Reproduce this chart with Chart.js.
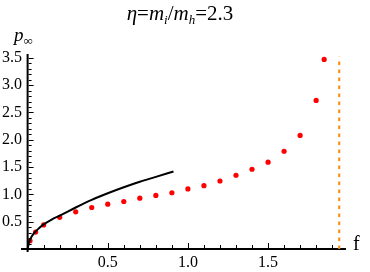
<!DOCTYPE html>
<html>
<head>
<meta charset="utf-8">
<script src="https://cdn.jsdelivr.net/npm/chart.js@4/dist/chart.umd.min.js"></script>
<style>
body { margin: 0; background: #fff; }
#wrap { position: relative; width: 370px; height: 272px; }
.lbl { position: absolute; font-family: "Liberation Serif", serif; color: #000; white-space: nowrap; }
#title { left: 0; width: 360px; top: 1px; text-align: center; font-size: 21px; }
#ylab { left: 14px; top: 24px; font-size: 19px; font-style: italic; }
#xlab { left: 353px; top: 232px; font-size: 20px; }
sub { font-size: 13px; vertical-align: -4px; line-height: 0; }
</style>
</head>
<body>
<div id="wrap">
<canvas id="myChart" width="370" height="272"></canvas>
<div class="lbl" id="title"><i>η</i>=<i>m</i><sub><i>i</i></sub>/<i>m</i><sub><i>h</i></sub>=2.3</div>
<div class="lbl" id="ylab">p<sub style="font-style:normal">∞</sub></div>
<div class="lbl" id="xlab">f</div>
</div>
<script>
// red dots
var dotF = [0.015, 0.05, 0.1, 0.2, 0.3, 0.4, 0.5, 0.6, 0.7, 0.8, 0.9, 1.0, 1.1, 1.2, 1.3, 1.4, 1.5, 1.6, 1.7, 1.8, 1.85];
var dotP = [0.15, 0.31, 0.44, 0.58, 0.68, 0.76, 0.82, 0.87, 0.93, 0.98, 1.03, 1.10, 1.16, 1.245, 1.35, 1.46, 1.59, 1.79, 2.08, 2.72, 3.47];
// black curve
var curveF = [0, 0.01, 0.03, 0.06, 0.1, 0.15, 0.2, 0.3, 0.4, 0.5, 0.6, 0.7, 0.8, 0.91];
var curveP = [0, 0.13, 0.25, 0.35, 0.45, 0.54, 0.61, 0.76, 0.90, 1.02, 1.13, 1.23, 1.32, 1.42];
// orange dashed limit
var limitF = 1.944;
var limitP = [0, 3.52];
// tick labels
var xTicks = [0.5, 1.0, 1.5];
var yTicks = [0.5, 1.0, 1.5, 2.0, 2.5, 3.0, 3.5];

function pts(xs, ys) {
    var out = [];
    for (i = 0; i < xs.length; i++) out.push({x: xs[i], y: ys[i]});
    return out;
}

// y axis line at f=0 and inward tick marks, Mathematica style
var axesPlugin = {
    id: 'axes',
    afterDatasetsDraw: function(chart) {
        var c = chart.ctx, xs = chart.scales.x, ys = chart.scales.y;
        var x0 = xs.getPixelForValue(0), y0 = ys.getPixelForValue(0);
        c.save();
        c.strokeStyle = '#000';
        c.lineWidth = 2;
        c.beginPath();
        c.moveTo(x0, ys.getPixelForValue(3.57));
        c.lineTo(x0, y0 + 3);
        c.stroke();
        c.lineWidth = 1;
        c.beginPath();
        for (var i = 1; i <= 19; i++) {
            var px = Math.round(xs.getPixelForValue(i / 10)) + 0.5;
            var len = (i % 5 == 0) ? 5 : 3;
            c.moveTo(px, y0 - 1);
            c.lineTo(px, y0 - 1 - len);
        }
        for (var j = 1; j <= 35; j++) {
            var py = Math.round(ys.getPixelForValue(j / 10)) + 0.5;
            var ln = (j % 5 == 0) ? 5 : 3;
            c.moveTo(x0 + 1, py);
            c.lineTo(x0 + 1 + ln, py);
        }
        c.stroke();
        c.restore();
    }
};

var tickFont = { family: 'Liberation Serif', size: 16 };

var ctx = document.getElementById('myChart').getContext('2d');
var myChart = new Chart(ctx, {
    type: 'scatter',
    data: {
        datasets: [{
            data: pts(curveF, curveP),
            showLine: true,
            borderColor: '#000',
            borderWidth: 2,
            pointRadius: 0,
            cubicInterpolationMode: 'monotone'
        }, {
            data: pts(dotF, dotP),
            backgroundColor: '#ff0000',
            borderWidth: 0,
            pointRadius: 2.6
        }, {
            data: pts([limitF, limitF], limitP),
            showLine: true,
            borderColor: '#ff8a00',
            borderWidth: 2,
            borderDash: [3.5, 4.5],
            pointRadius: 0
        }]
    },
    options: {
        responsive: false,
        animation: false,
        layout: { padding: { left: 0, top: 54, right: 25, bottom: 0 } },
        plugins: { legend: { display: false }, title: { display: false }, tooltip: { enabled: false } },
        scales: {
            x: {
                type: 'linear',
                min: -0.035,
                max: 1.98,
                grid: { display: false, drawTicks: false },
                border: { display: true, color: '#000', width: 2 },
                ticks: {
                    autoSkip: false,
                    maxRotation: 0,
                    padding: 4,
                    color: '#000',
                    font: tickFont,
                    callback: function(v) { return v.toFixed(1); }
                },
                afterBuildTicks: function(s) { s.ticks = xTicks.map(function(v) { return {value: v}; }); },
                afterFit: function(s) { s.height = 23; }
            },
            y: {
                type: 'linear',
                min: 0,
                max: 3.57,
                grid: { display: false, drawTicks: false },
                border: { display: false },
                ticks: {
                    autoSkip: false,
                    padding: 0,
                    color: '#000',
                    font: tickFont,
                    callback: function(v) { return v.toFixed(1); }
                },
                afterBuildTicks: function(s) { s.ticks = yTicks.map(function(v) { return {value: v}; }); },
                afterFit: function(s) { s.width = 22; }
            }
        }
    },
    plugins: [axesPlugin]
});
</script>
</body>
</html>
